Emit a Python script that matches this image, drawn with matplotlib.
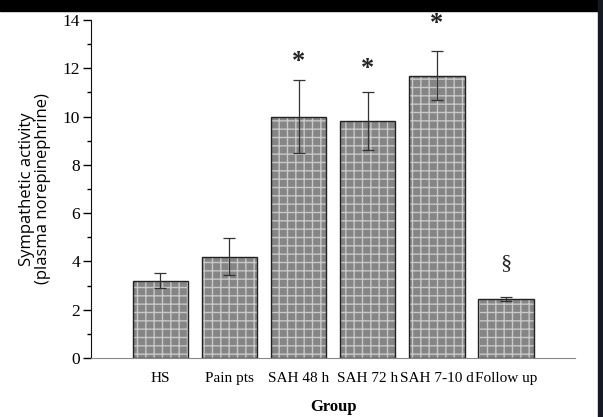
import matplotlib.pyplot as plt
from matplotlib.patches import Rectangle
from matplotlib.ticker import MultipleLocator

groups = ["HS", "Pain pts", "SAH 48 h", "SAH 72 h", "SAH 7-10 d", "Follow up"]
means = [3.2, 4.2, 10.0, 9.8, 11.7, 2.45]
errors = [0.3, 0.75, 1.5, 1.2, 1.0, 0.08]
marks = ["", "", "*", "*", "*", "\u00a7"]
mark_y = [None, None, 12.3, 12.0, 13.85, 3.9]

fig = plt.figure(figsize=(6.03, 4.17), dpi=100)
ax = fig.add_axes([0.151, 0.1415, 0.803, 0.8105])

x = range(len(groups))
ax.bar(x, means, width=0.8, color="#858585", edgecolor="#c8c8c8",
       hatch="++", linewidth=0, zorder=2)
ax.bar(x, means, width=0.8, fill=False, edgecolor="#222222",
       linewidth=1.0, zorder=3)
ax.errorbar(x, means, yerr=errors, fmt="none", ecolor="#333333",
            elinewidth=0.9, capsize=4, capthick=0.9, zorder=4)

for i, (m, my) in enumerate(zip(marks, mark_y)):
    if m == "*":
        ax.text(i, my, m, ha="center", va="center", fontsize=19,
                family="Liberation Serif", fontweight="bold", color="#222222")
    elif m:
        ax.text(i, my, m, ha="center", va="center", fontsize=16,
                family="Liberation Serif", color="#222222")

ax.set_xlim(-1, 6)
ax.set_ylim(0, 14)
ax.yaxis.set_major_locator(MultipleLocator(2))
ax.yaxis.set_minor_locator(MultipleLocator(1))
ax.set_xticks(list(x))
ax.set_xticklabels(groups, family="Liberation Serif", fontsize=11)
for lbl in ax.get_yticklabels():
    lbl.set_family("Liberation Serif")
    lbl.set_fontsize(12.5)

ax.spines["top"].set_visible(False)
ax.spines["right"].set_visible(False)
ax.spines["left"].set_color("#111111")
ax.spines["bottom"].set_color("#888888")
ax.tick_params(axis="x", length=0, pad=10)
ax.tick_params(axis="y", which="major", length=6, width=1, pad=2)
ax.tick_params(axis="y", which="minor", length=3, width=1)

ax.set_xlabel("Group", family="Liberation Serif", fontweight="bold",
              fontsize=12, labelpad=10)
ax.set_ylabel("Sympathetic activity\n(plasma norepinephrine)",
              family="Open Sans", fontsize=12, labelpad=8, linespacing=1.0)

# dark borders of the screenshot
fig.patches.append(Rectangle((0, 1 - 11 / 417), 1, 11 / 417, transform=fig.transFigure,
                             color="black", zorder=10))
fig.patches.append(Rectangle((598 / 603, 0), 5 / 603, 1, transform=fig.transFigure,
                             color="#151a22", zorder=10))

plt.savefig("out.png", dpi=100)
